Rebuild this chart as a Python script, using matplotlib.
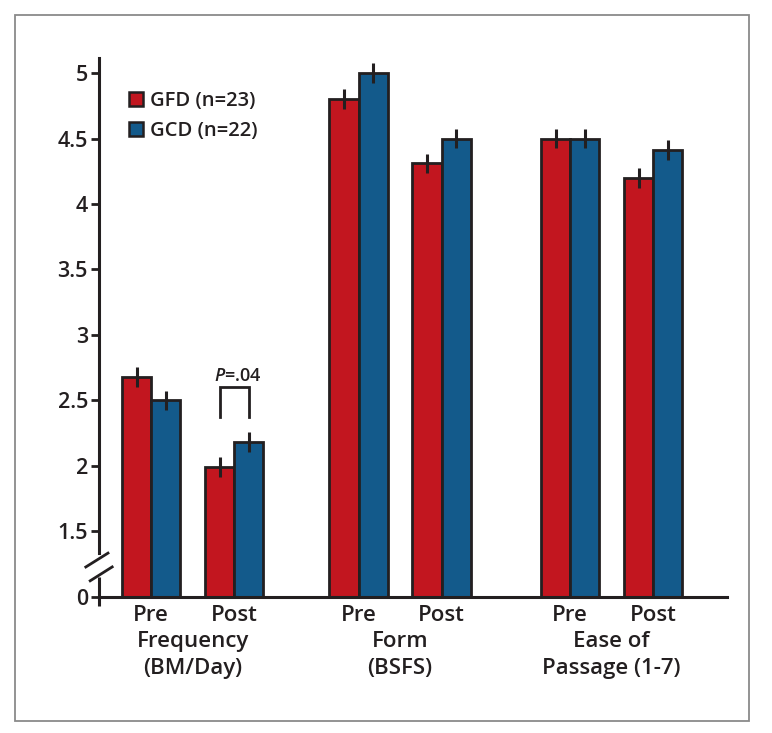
import numpy as np
import matplotlib
matplotlib.use('Agg')
import matplotlib.pyplot as plt
from matplotlib.patches import Patch, Rectangle

# data
metrics = ['Frequency\n(BM/Day)', 'Form\n(BSFS)', 'Ease of\nPassage (1-7)']
periods = ['Pre', 'Post']
gfd = [2.68, 1.99, 4.80, 4.31, 4.50, 4.20]
gcd = [2.50, 2.18, 5.00, 4.50, 4.50, 4.41]
gfd_err = [0.075, 0.075, 0.075, 0.075, 0.075, 0.075]
gcd_err = [0.075, 0.075, 0.075, 0.075, 0.075, 0.075]
pair_x = [0.0, 1.0, 2.5, 3.5, 5.05, 6.05]
ytick_vals = [1, 1.5, 2, 2.5, 3, 3.5, 4, 4.5, 5]
ytick_labels = ['0', '1.5', '2', '2.5', '3', '3.5', '4', '4.5', '5']
legend_labels = ['GFD (n=23)', 'GCD (n=22)']

RED = '#c2161f'
BLUE = '#135a8b'
DARK = '#231f20'
BASE = 1.0  # broken axis baseline, labelled 0

plt.rcParams['font.family'] = ['Open Sans', 'DejaVu Sans']
plt.rcParams['font.weight'] = 'semibold'
plt.rcParams['mathtext.fontset'] = 'custom'
plt.rcParams['mathtext.it'] = 'Open Sans:italic:semibold'
plt.rcParams['mathtext.rm'] = 'Open Sans:semibold'


def make_figure():
    W, H = 772, 733
    fig = plt.figure(figsize=(W / 100, H / 100), dpi=100)
    left, right, top, bottom = 99, 727, 58, 606
    ax = fig.add_axes([left / W, 1 - bottom / H, (right - left) / W, (bottom - top) / H])

    x = np.array(pair_x)
    w = 0.35
    ax.bar(x - w / 2, np.array(gfd) - BASE, w, bottom=BASE, color=RED,
           edgecolor=DARK, linewidth=2.0, zorder=2)
    ax.bar(x + w / 2, np.array(gcd) - BASE, w, bottom=BASE, color=BLUE,
           edgecolor=DARK, linewidth=2.0, zorder=2)
    ax.errorbar(x - w / 2, gfd, yerr=gfd_err, fmt='none', ecolor=DARK,
                elinewidth=2.2, capsize=0, zorder=3)
    ax.errorbar(x + w / 2, gcd, yerr=gcd_err, fmt='none', ecolor=DARK,
                elinewidth=2.2, capsize=0, zorder=3)

    ax.set_xlim(-0.627, 6.94)
    ax.set_ylim(0.93, 5.115)

    for s in ['top', 'right']:
        ax.spines[s].set_visible(False)
    ax.spines['bottom'].set_position(('data', BASE))
    ax.spines['bottom'].set_linewidth(2.2)
    ax.spines['bottom'].set_color(DARK)
    ax.spines['left'].set_linewidth(2.2)
    ax.spines['left'].set_color(DARK)
    ax.spines['left'].set_bounds(1.336, 5.115)
    ax.plot([0, 0], [0, 0.053], transform=ax.transAxes, color=DARK,
            lw=2.2, clip_on=False, solid_capstyle='butt')
    # break marks
    ax.plot([-0.021, 0.0143], [0.0712, 0.0965], transform=ax.transAxes,
            color=DARK, lw=2.0, clip_on=False)
    ax.plot([-0.014, 0.021], [0.046, 0.0713], transform=ax.transAxes,
            color=DARK, lw=2.0, clip_on=False)

    ax.set_yticks(ytick_vals)
    ax.set_yticklabels(ytick_labels)
    ax.tick_params(axis='y', direction='out', length=6, width=2.0,
                   color=DARK, labelsize=15.5, pad=2, labelcolor=DARK)
    ax.set_xticks(x)
    ax.set_xticklabels(periods * 3)
    ax.tick_params(axis='x', length=0, labelsize=16, pad=6, labelcolor=DARK)

    for i, m in enumerate(metrics):
        cx = (x[2 * i] + x[2 * i + 1]) / 2
        ax.text(cx, -0.046, m, transform=ax.get_xaxis_transform(), ha='center',
                va='top', fontsize=16, color=DARK, linespacing=1.35)

    # significance bracket
    bx = [x[1] - w / 2, x[1] + w / 2]
    ax.plot([bx[0], bx[0], bx[1], bx[1]], [2.37, 2.60, 2.60, 2.37],
            color=DARK, lw=2.0, solid_joinstyle='miter')
    ax.text(np.mean(bx) + 0.05, 2.62, r'$\mathit{P}$=.04', ha='center', va='bottom',
            fontsize=13, color=DARK)

    handles = [Patch(facecolor=RED, edgecolor=DARK, linewidth=1.8),
               Patch(facecolor=BLUE, edgecolor=DARK, linewidth=1.8)]
    ax.legend(handles, legend_labels, loc='upper left',
              bbox_to_anchor=(0.048, 0.94), frameon=False, fontsize=14.5,
              handlelength=0.7, handleheight=0.7, handletextpad=0.35,
              labelspacing=0.5, borderpad=0, borderaxespad=0,
              labelcolor=DARK)

    fig.patches.append(Rectangle((15 / W, 1 - 721 / H), 734 / W, 706 / H,
                                 transform=fig.transFigure, fill=False,
                                 edgecolor='#8a8a8a', linewidth=1.3))
    return fig


if __name__ == "__main__":
    fig = make_figure()
    fig.savefig('out.png', dpi=100)
